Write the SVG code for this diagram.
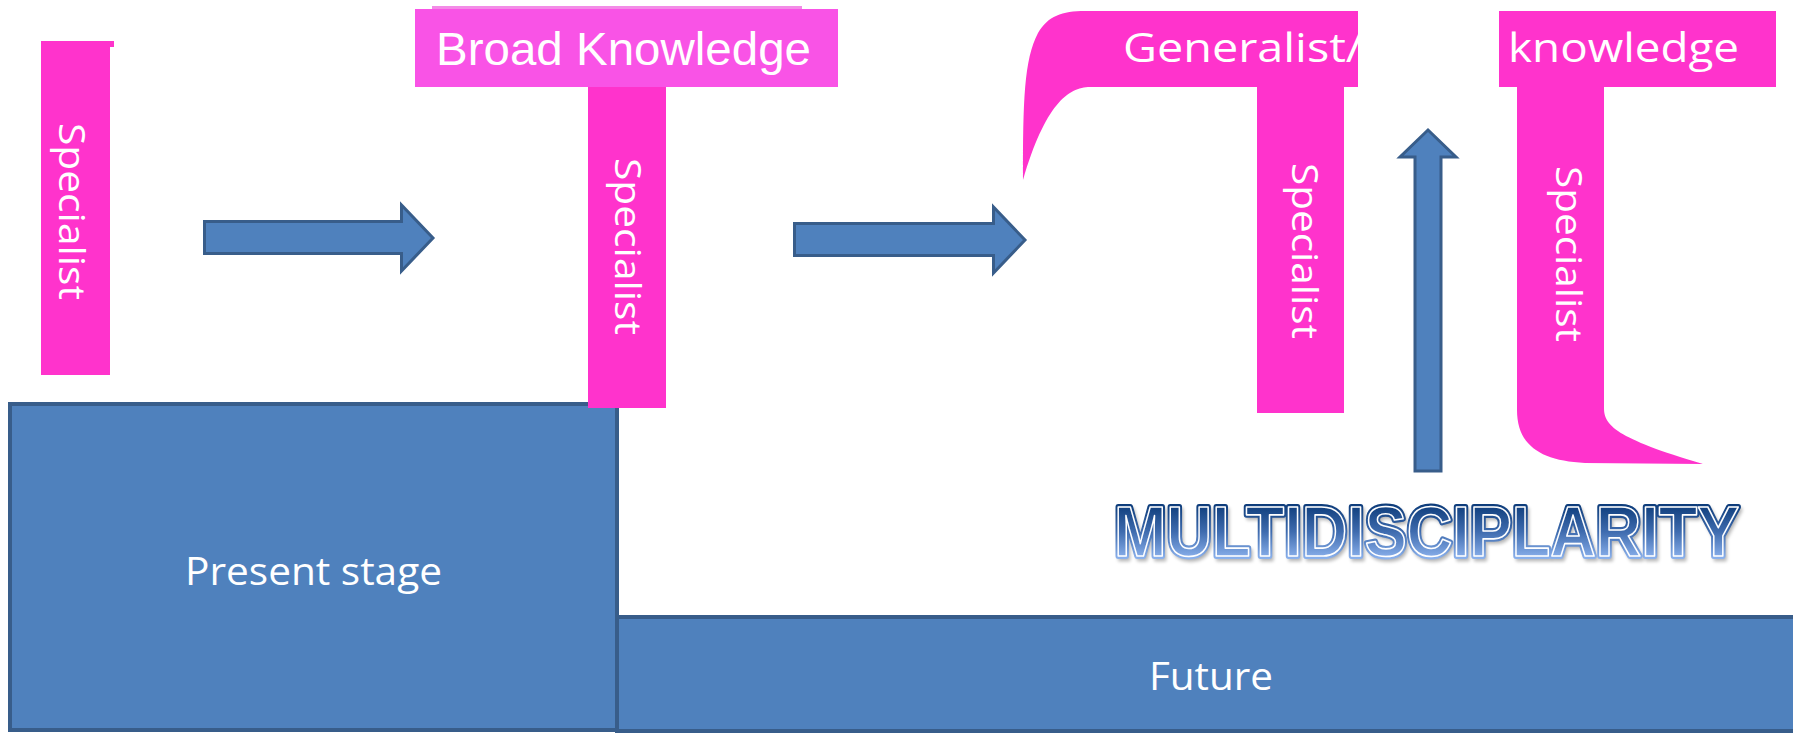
<svg xmlns="http://www.w3.org/2000/svg" width="1793" height="733" viewBox="0 0 1793 733">
  <style>
    .pink { fill: #FF33CC; }
    .pinkl { fill: #F953E6; }
    .box { fill: #4F81BD; stroke: #385D8A; stroke-width: 4; }
    .arrow { fill: #4F81BD; stroke: #385D8A; stroke-width: 3; stroke-linejoin: miter; }
    .vt { font-family: "Open Sans", "Noto Sans", sans-serif; font-size: 37px; fill: #FFFFFF; }
    .lbl { font-family: "Open Sans", "Noto Sans", sans-serif; fill: #FFFFFF; }
    .ak { font-family: "Liberation Sans", Arial, sans-serif; fill: #FFFFFF; }
    .md { font-family: "Liberation Sans", Arial, sans-serif; font-weight: bold; font-size: 70px; stroke-linejoin: round; }
  </style>
  <defs>
    <linearGradient id="mg" x1="0" y1="-53" x2="0" y2="4" gradientUnits="userSpaceOnUse">
      <stop offset="0" stop-color="#0B3A78"/>
      <stop offset="0.5" stop-color="#3E6BAE"/>
      <stop offset="1" stop-color="#8FB5F0"/>
    </linearGradient>
    <clipPath id="genclip">
      <rect x="1000" y="0" width="358" height="100"/>
    </clipPath>
    <filter id="blur" x="-0.05" y="-0.3" width="1.1" height="1.6">
      <feGaussianBlur stdDeviation="1.5"/>
    </filter>
  </defs>

  <rect x="0" y="0" width="1793" height="733" fill="#FFFFFF"/>

  <g id="future">
    <rect class="box" x="617" y="617" width="1190" height="114"/>
    <text class="lbl" x="1149" y="690" font-size="38" textLength="124" lengthAdjust="spacingAndGlyphs">Future</text>
  </g>

  <g id="present-stage">
    <rect class="box" x="10" y="404" width="607" height="326"/>
    <text class="lbl" x="185" y="585" font-size="39" textLength="257" lengthAdjust="spacingAndGlyphs">Present stage</text>
  </g>

  <g id="specialist-1">
    <rect class="pink" x="41" y="41" width="69" height="334"/>
    <rect class="pink" x="110" y="41" width="4" height="6"/>
    <text class="vt" transform="translate(59,123) rotate(90)" textLength="177" lengthAdjust="spacingAndGlyphs">Specialist</text>
  </g>

  <g id="broad-knowledge-t">
    <rect x="432" y="6" width="370" height="3" fill="#F38BE6"/>
    <rect class="pinkl" x="415" y="9" width="423" height="78"/>
    <rect class="pink" x="588" y="87" width="78" height="321"/>
    <text class="ak" x="436" y="65" font-size="46" textLength="375" lengthAdjust="spacingAndGlyphs">Broad Knowledge</text>
    <text class="vt" transform="translate(615,158) rotate(90)" textLength="177" lengthAdjust="spacingAndGlyphs">Specialist</text>
  </g>

  <g id="generalist-t">
    <path class="pink" d="M 1023,180 C 1023,100 1024,60 1038,33 C 1048,16 1062,11 1085,11 L 1358,11 L 1358,87 L 1344,87 L 1344,413 L 1257,413 L 1257,87 L 1090,87 C 1068,87 1045,105 1023,180 Z"/>
    <text class="lbl" x="1123" y="62" font-size="40" textLength="240" lengthAdjust="spacingAndGlyphs" clip-path="url(#genclip)">Generalist/</text>
    <text class="vt" transform="translate(1292,163) rotate(90)" textLength="176" lengthAdjust="spacingAndGlyphs">Specialist</text>
  </g>

  <g id="knowledge-t">
    <path class="pink" d="M 1499,11 L 1776,11 L 1776,87 L 1604,87 L 1604,408 C 1604,425 1615,438 1703,464 L 1585,463 C 1540,461 1517,445 1517,410 L 1517,87 L 1499,87 Z"/>
    <text class="lbl" x="1508" y="62" font-size="40" textLength="231" lengthAdjust="spacingAndGlyphs">knowledge</text>
    <text class="vt" transform="translate(1556,166) rotate(90)" textLength="176" lengthAdjust="spacingAndGlyphs">Specialist</text>
  </g>

  <g id="multidisciplarity">
    <g transform="translate(1116,559) scale(0.9,1)">
      <text class="md" x="0" y="0" fill="#000000" fill-opacity="0.2" stroke="#000000" stroke-opacity="0.2" stroke-width="6" filter="url(#blur)">MULTIDISCIPLARITY</text>
    </g>
    <g transform="translate(1114,556) scale(0.9,1)">
      <text class="md" x="0" y="0" fill="url(#mg)" stroke="url(#mg)" stroke-width="6">MULTIDISCIPLARITY</text>
      <text class="md" x="0" y="0" fill="url(#mg)" stroke="#FFFFFF" stroke-width="1.6">MULTIDISCIPLARITY</text>
    </g>
  </g>

  <g id="connectors">
    <path class="arrow" d="M 204.5,221.5 L 401.5,221.5 L 401.5,205 L 433,238 L 401.5,271 L 401.5,253.5 L 204.5,253.5 Z"/>
    <path class="arrow" d="M 794.5,223.5 L 993.5,223.5 L 993.5,207 L 1025,240 L 993.5,273 L 993.5,255.5 L 794.5,255.5 Z"/>
    <path class="arrow" d="M 1415,471 L 1415,157 L 1400,157 L 1428,130 L 1456,157 L 1441,157 L 1441,471 Z"/>
  </g>
</svg>
